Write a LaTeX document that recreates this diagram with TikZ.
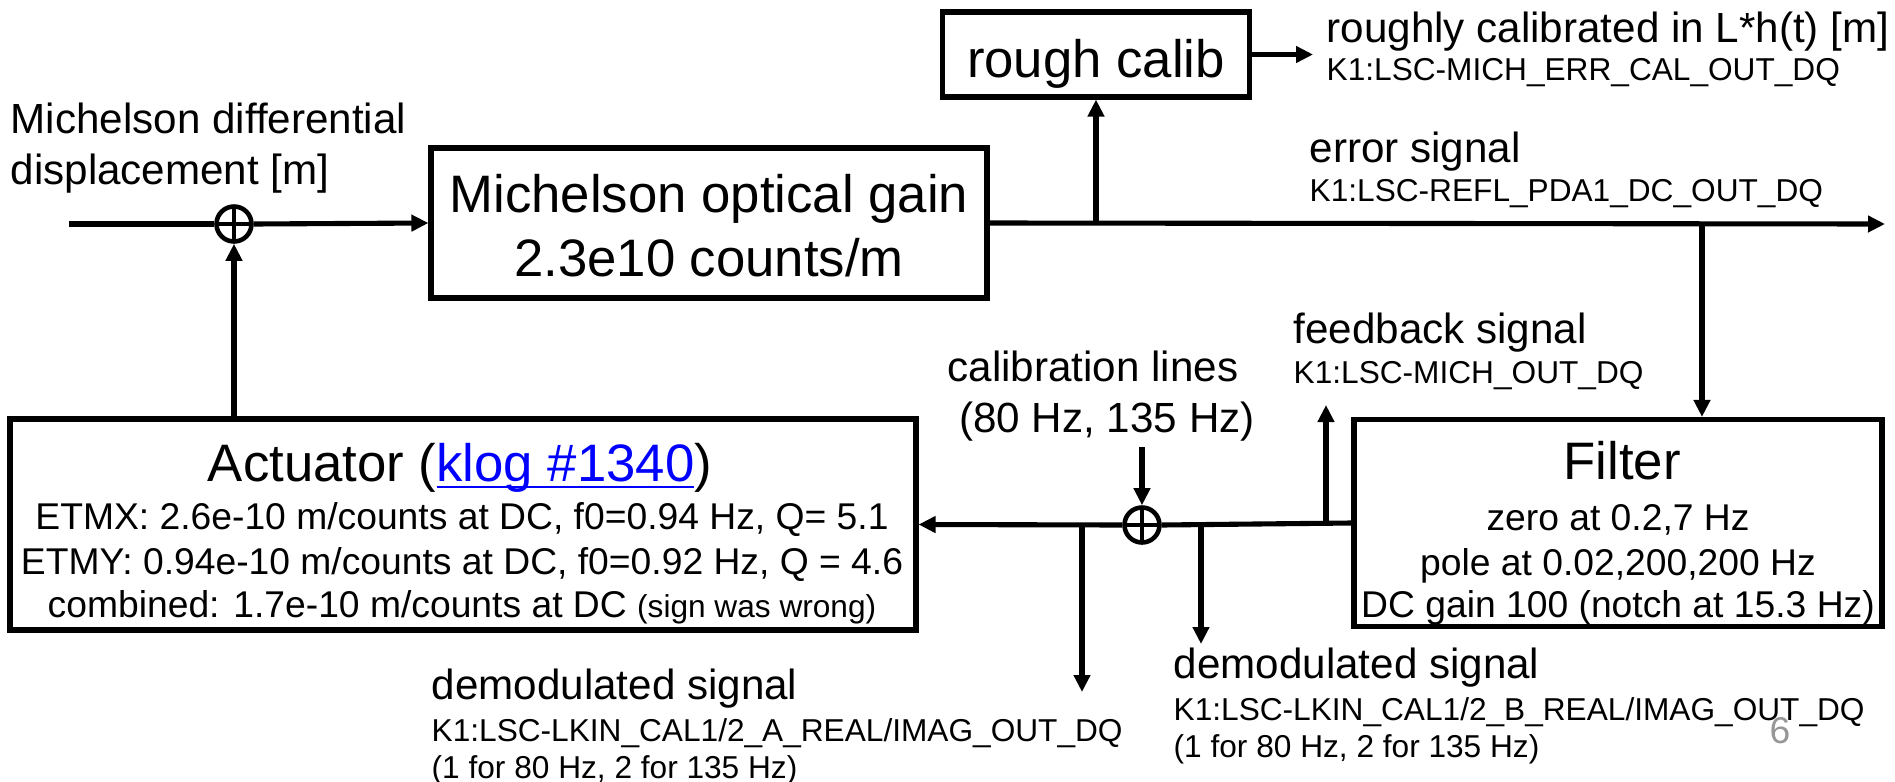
\documentclass[tikz,border=0pt]{standalone}
\usepackage{fontspec}
\setmainfont{Liberation Sans}
\usepackage{xcolor}
\usetikzlibrary{arrows.meta,positioning,calc}
\definecolor{linkblue}{RGB}{0,0,255}
\definecolor{pagegray}{RGB}{150,150,150}
\newcommand\linkul[1]{\setbox0\hbox{#1}\rlap{\rule[-0.13em]{\wd0}{0.035em}}#1}
\tikzset{
  blockbox/.style={draw,line width=1.45pt,fill=white,inner sep=0pt},
  sig/.style={line width=1.45pt},
  arr/.style={-{Triangle[length=1.7mm,width=1.6mm]},line width=1.45pt},
  sumjn/.style={circle,draw,line width=1.3pt,minimum size=0.35cm,inner sep=0pt,
    path picture={\draw[line width=1.3pt]
      (path picture bounding box.north)--(path picture bounding box.south)
      (path picture bounding box.west)--(path picture bounding box.east);}}
}

\begin{document}
\begin{tikzpicture}[
  bigtxt/.style={font=\fontsize{15}{18}\selectfont,inner sep=0pt,anchor=base},
  midtxt/.style={font=\fontsize{12}{14}\selectfont,inner sep=0pt,anchor=base west},
  dettxt/.style={font=\fontsize{10.6}{13}\selectfont,inner sep=0pt,anchor=base},
  chantxt/.style={font=\fontsize{9}{11}\selectfont,inner sep=0pt,anchor=base west}
]

  \useasboundingbox (0,0) rectangle (18.95,7.81);

  \node[blockbox,minimum width=5.56cm,minimum height=1.50cm] (michgain) at (7.09,5.58) {};
  \node[blockbox,minimum width=3.07cm,minimum height=0.85cm] (roughcal) at (10.96,7.265) {};
  \node[blockbox,minimum width=5.28cm,minimum height=2.07cm] (filter) at (16.18,2.58) {};
  \node[blockbox,minimum width=9.06cm,minimum height=2.11cm] (actuator) at (4.63,2.565) {};

  \node[sumjn] (sumin) at (2.34,5.57) {};
  \node[sumjn] (sumcal) at (11.42,2.56) {};

  \coordinate (insrc) at (0.69,5.57);
  \coordinate (rtap) at (10.96,5.57);
  \coordinate (ftap) at (17.02,5.57);
  \coordinate (errout) at (18.85,5.57);
  \coordinate (calout) at ($(roughcal.east)+(0.61,0)$);
  \coordinate (fbtap) at (13.26,2.56);
  \coordinate (fbout) at (13.26,3.76);
  \coordinate (calsrc) at (11.42,3.34);
  \coordinate (dmatap) at (10.82,2.56);
  \coordinate (dmaout) at (10.82,0.89);
  \coordinate (dmbtap) at (12.01,2.56);
  \coordinate (dmbout) at (12.01,1.37);

  \draw[sig] (insrc) -- (sumin.west);
  \draw[arr] (sumin.east) -- (michgain.west);
  \draw[arr] (michgain.east) -- (errout);
  \draw[arr] (rtap) -- (roughcal.south);
  \draw[arr] (roughcal.east) -- (calout);
  \draw[arr] (ftap) -- (ftap |- filter.north);

  \draw[sig] (filter.west) -- (sumcal.east);
  \draw[arr] (sumcal.west) -- (actuator.east);
  \draw[arr] (fbtap) -- (fbout);
  \draw[arr] (calsrc) -- (sumcal.north);
  \draw[arr] (dmatap) -- (dmaout);
  \draw[arr] (dmbtap) -- (dmbout);
  \draw[arr] (sumin |- actuator.north) -- (sumin.south);

  \node[midtxt] (inlbla) at (0.10,6.48) {Michelson differential};
  \node[midtxt] (inlblb) at (0.10,5.97) {displacement [m]};

  \node[bigtxt] (gainla) at (7.09,5.69) {Michelson optical gain};
  \node[bigtxt] (gainlb) at (7.09,5.05) {2.3e10 counts/m};
  \node[bigtxt] (roughla) at (10.96,7.04) {rough calib};

  \node[midtxt] (calla) at (13.26,7.39) {roughly calibrated in L*h(t) [m]};
  \node[chantxt] (callb) at (13.26,7.01) {K1:LSC-MICH\_ERR\_CAL\_OUT\_DQ};
  \node[midtxt] (errla) at (13.09,6.19) {error signal};
  \node[chantxt] (errlb) at (13.09,5.80) {K1:LSC-REFL\_PDA1\_DC\_OUT\_DQ};
  \node[midtxt] (fbla) at (12.93,4.38) {feedback signal};
  \node[chantxt] (fblb) at (12.93,3.98) {K1:LSC-MICH\_OUT\_DQ};

  \node[midtxt,anchor=base] (linela) at (10.93,4.00) {calibration lines};
  \node[midtxt,anchor=base] (linelb) at (11.07,3.49) {(80 Hz, 135 Hz)};

  \node[bigtxt] (filtla) at (16.22,3.02) {Filter};
  \node[dettxt] (filtlb) at (16.18,2.51) {zero at 0.2,7 Hz};
  \node[dettxt] (filtlc) at (16.18,2.06) {pole at 0.02,200,200 Hz};
  \node[dettxt] (filtld) at (16.18,1.64) {DC gain 100 (notch at 15.3 Hz)};

  \node[bigtxt] (actla) at (4.60,3.00) {Actuator (\textcolor{linkblue}{\linkul{klog \#1340}})};
  \node[dettxt] (actlb) at (4.62,2.52) {ETMX: 2.6e-10 m/counts at DC, f0=0.94 Hz, Q= 5.1};
  \node[dettxt] (actlc) at (4.62,2.07) {ETMY: 0.94e-10 m/counts at DC, f0=0.92 Hz, Q = 4.6};
  \node[dettxt] (actld) at (4.62,1.64) {combined: 1.7e-10 m/counts at DC {\fontsize{9}{11}\selectfont(sign was wrong)}};

  \node[midtxt] (dmala) at (4.31,0.82) {demodulated signal};
  \node[chantxt] (dmalb) at (4.31,0.40) {K1:LSC-LKIN\_CAL1/2\_A\_REAL/IMAG\_OUT\_DQ};
  \node[chantxt] (dmalc) at (4.31,0.03) {(1 for 80 Hz, 2 for 135 Hz)};

  \node[midtxt] (dmbla) at (11.73,1.03) {demodulated signal};
  \node[chantxt] (dmblb) at (11.73,0.61) {K1:LSC-LKIN\_CAL1/2\_B\_REAL/IMAG\_OUT\_DQ};
  \node[chantxt] (dmblc) at (11.73,0.24) {(1 for 80 Hz, 2 for 135 Hz)};

  \node[dettxt,text=pagegray] (pagenum) at (17.80,0.38) {6};

\end{tikzpicture}
\end{document}
